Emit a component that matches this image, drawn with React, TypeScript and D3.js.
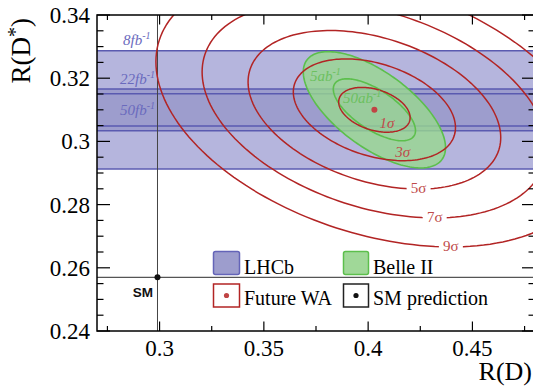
import React from 'react';
import * as d3 from 'd3';

const W = 533;
const H = 388;

// ---- data ----
const xDomain = [0.27, 0.48];
const yDomain = [0.24, 0.34];
const xMajorTicks = [0.3, 0.35, 0.4, 0.45];
const xTickLabels = ['0.3', '0.35', '0.4', '0.45'];
const xMinorTicks = [0.275, 0.325, 0.375, 0.425, 0.475];
const yMajorTicks = [0.24, 0.26, 0.28, 0.3, 0.32, 0.34];
const yTickLabels = ['0.24', '0.26', '0.28', '0.3', '0.32', '0.34'];

const lhcbLumi = ['8fb', '22fb', '50fb'];
const lhcbCenter = 0.31;
const lhcbHalfWidth = [0.0187, 0.0066, 0.0051];

const belleLumi = ['5ab', '50ab'];
const belleCenter = [0.403, 0.31];
const belleHalfX = [0.0341, 0.0197];
const belleHalfY = [0.0184, 0.0098];
const belleRho = [-0.65, -0.67];

const waCenter = [0.403, 0.31];
const waSigma = [0.0113, 0.00468];
const waRho = -0.35;
const waLevels = ['1σ', '3σ', '5σ', '7σ', '9σ'];
const waRadius = [1.515, 3.44, 5.36, 7.31, 9.27];

const smPoint = [0.299, 0.257];

// ---- layout ----
const L = 97, T = 15, R = 535, B = 331;
const x = d3.scaleLinear().domain(xDomain).range([L, R]);
const y = d3.scaleLinear().domain(yDomain).range([B, T]);

const serif = '"Liberation Serif", "DejaVu Serif", serif';
const sans = '"Liberation Sans", Arial, sans-serif';

function ellipsePath(cx: number, cy: number, hx: number, hy: number, rho: number) {
  const pts: [number, number][] = d3.range(0, 361, 2).map((deg) => {
    const t = (deg * Math.PI) / 180;
    const px = cx + hx * Math.cos(t);
    const py = cy + hy * (rho * Math.cos(t) + Math.sqrt(1 - rho * rho) * Math.sin(t));
    return [x(px), y(py)];
  });
  return d3.line().curve(d3.curveLinearClosed)(pts) as string;
}

const yMinor = d3.range(0, 21).map((i) => 0.24 + i * 0.005);

export default function App() {
  const red = '#b22424';
  const redText = '#c04a4a';
  const blueLine = '#5a5ab0';
  const greenLine = '#5cbf4c';

  return (
    <svg width={W} height={H} style={{ position: 'absolute', left: 0, top: 0, background: '#fff' }}>
      <defs>
        <clipPath id="plot">
          <rect x={L} y={T} width={R - L} height={B - T} />
        </clipPath>
      </defs>
      <rect x={0} y={0} width={W} height={H} fill="#fff" />
      <g clipPath="url(#plot)">
        {/* LHCb bands */}
        {lhcbHalfWidth.map((hw, i) => (
          <rect
            key={'bf' + i}
            x={L}
            width={R - L}
            y={y(lhcbCenter + hw)}
            height={y(lhcbCenter - hw) - y(lhcbCenter + hw)}
            fill={i === 0 ? '#b5b5dd' : i === 1 ? '#9d9dcd' : 'none'}
          />
        ))}
        {lhcbHalfWidth.map((hw, i) => (
          <g key={'bl' + i}>
            <line x1={L} x2={R} y1={y(lhcbCenter + hw)} y2={y(lhcbCenter + hw)} stroke={blueLine} strokeWidth={1.5} />
            <line x1={L} x2={R} y1={y(lhcbCenter - hw)} y2={y(lhcbCenter - hw)} stroke={blueLine} strokeWidth={1.5} />
          </g>
        ))}
        {/* Belle II ellipses */}
        {belleHalfX.map((hx, i) => (
          <path
            key={'be' + i}
            d={ellipsePath(belleCenter[0], belleCenter[1], hx, belleHalfY[i], belleRho[i])}
            fill={i === 0 ? '#98d890' : 'none'}
            fillOpacity={0.8}
            stroke={greenLine}
            strokeWidth={1.6}
          />
        ))}
        {/* SM lines */}
        <line x1={x(smPoint[0])} x2={x(smPoint[0])} y1={T} y2={B} stroke="#444" strokeWidth={1} />
        <line x1={L} x2={R} y1={y(smPoint[1])} y2={y(smPoint[1])} stroke="#555" strokeWidth={1.3} />
        {/* Future WA ellipses */}
        {waRadius.map((k, i) => (
          <path
            key={'wa' + i}
            d={ellipsePath(waCenter[0], waCenter[1], k * waSigma[0], k * waSigma[1], waRho)}
            fill="none"
            stroke={red}
            strokeWidth={1.5}
          />
        ))}
        {/* WA labels */}
        {waRadius.map((k, i) => {
          const lx = x(waCenter[0] - waRho * k * waSigma[0]);
          const ly = y(waCenter[1] - k * waSigma[1]);
          const inside = i < 2;
          const cy = inside ? ly - 9 : ly - 1;
          return (
            <g key={'wl' + i}>
              {!inside && <rect x={lx - 12} y={cy - 7} width={24} height={13} fill="#fff" />}
              <text
                x={lx}
                y={cy + 5}
                textAnchor="middle"
                fontFamily={serif}
                fontSize={15}
                fontStyle={inside ? 'italic' : 'normal'}
                fill={redText}
              >
                {waLevels[i]}
              </text>
            </g>
          );
        })}
        <circle cx={x(waCenter[0])} cy={y(waCenter[1])} r={3} fill="#c04444" />
        <circle cx={x(smPoint[0])} cy={y(smPoint[1])} r={3} fill="#111" />
      </g>

      {/* band labels */}
      {lhcbLumi.map((s, i) => {
        const ys = [45, 84, 115];
        return (
          <text key={'lt' + i} x={i === 0 ? 123 : 120} y={ys[i]} fontFamily={serif} fontStyle="italic" fontSize={15} fill="#6a6abd">
            {s}
            <tspan dy={-6} fontSize={10}>-1</tspan>
          </text>
        );
      })}
      {belleLumi.map((s, i) => {
        const pos = [[310, 81], [343, 103]];
        return (
          <text key={'gt' + i} x={pos[i][0]} y={pos[i][1]} fontFamily={serif} fontStyle="italic" fontSize={15} fill="#6cc060">
            {s}
            <tspan dy={-6} fontSize={10}>-1</tspan>
          </text>
        );
      })}

      <text x={153} y={297} textAnchor="end" fontFamily={sans} fontWeight="bold" fontSize={13.5} fill="#111">SM</text>

      {/* legend */}
      <rect x={213.5} y={251.5} width={26} height={23} rx={2} fill="#9d9dcd" stroke="#6464b8" strokeWidth={1.5} />
      <text x={244} y={274} fontFamily={serif} fontSize={20} fill="#000">LHCb</text>
      <rect x={343.5} y={251.5} width={25} height={23} rx={2} fill="#a0d898" stroke="#5cbf4c" strokeWidth={1.5} />
      <text x={373} y={274} fontFamily={serif} fontSize={20} fill="#000">Belle II</text>
      <rect x={213.5} y={284} width={26} height={23} fill="#fff" stroke="#b22424" strokeWidth={1.5} />
      <circle cx={226.5} cy={295.5} r={2.6} fill="#c04444" />
      <text x={244} y={305} fontFamily={serif} fontSize={20} fill="#000">Future WA</text>
      <rect x={343.5} y={284} width={25} height={23} fill="#fff" stroke="#222" strokeWidth={1.5} />
      <circle cx={356} cy={295.5} r={2.6} fill="#111" />
      <text x={373} y={305} fontFamily={serif} fontSize={20} fill="#000">SM prediction</text>

      {/* frame */}
      <rect x={L} y={T} width={R - L} height={B - T} fill="none" stroke="#000" strokeWidth={1.5} />

      {/* x ticks */}
      {xMajorTicks.map((t) => (
        <g key={'xt' + t}>
          <line x1={x(t)} x2={x(t)} y1={B} y2={B - 9.5} stroke="#000" strokeWidth={1.2} />
          <line x1={x(t)} x2={x(t)} y1={T} y2={T + 9.5} stroke="#000" strokeWidth={1.2} />
        </g>
      ))}
      {xMinorTicks.map((t) => (
        <g key={'xm' + t}>
          <line x1={x(t)} x2={x(t)} y1={B} y2={B - 5} stroke="#000" strokeWidth={1.2} />
          <line x1={x(t)} x2={x(t)} y1={T} y2={T + 5} stroke="#000" strokeWidth={1.2} />
        </g>
      ))}
      {xMajorTicks.map((t, i) => (
        <text key={'xl' + t} x={x(t)} y={356} textAnchor="middle" fontFamily={serif} fontSize={23} fill="#000">
          {xTickLabels[i]}
        </text>
      ))}

      {/* y ticks */}
      {yMinor.map((t, i) => {
        const major = i % 4 === 0;
        const len = major ? 13 : 6.5;
        return (
          <g key={'ym' + i}>
            <line x1={L} x2={L + len} y1={y(t)} y2={y(t)} stroke="#000" strokeWidth={1.2} />
            <line x1={R} x2={R - len} y1={y(t)} y2={y(t)} stroke="#000" strokeWidth={1.2} />
          </g>
        );
      })}
      {yMajorTicks.map((t, i) => (
        <text key={'yl' + t} x={90} y={y(t) + 8} textAnchor="end" fontFamily={serif} fontSize={23} fill="#000">
          {yTickLabels[i]}
        </text>
      ))}

      {/* axis titles */}
      <text x={532} y={380} textAnchor="end" fontFamily={serif} fontSize={26} fill="#000">R(D)</text>
      <text transform="translate(30,18) rotate(-90)" textAnchor="end" fontFamily={serif} fontSize={27} fill="#000">
        R(D<tspan dy={-8} fontSize={20}>*</tspan>
        <tspan dy={8}>)</tspan>
      </text>
    </svg>
  );
}
